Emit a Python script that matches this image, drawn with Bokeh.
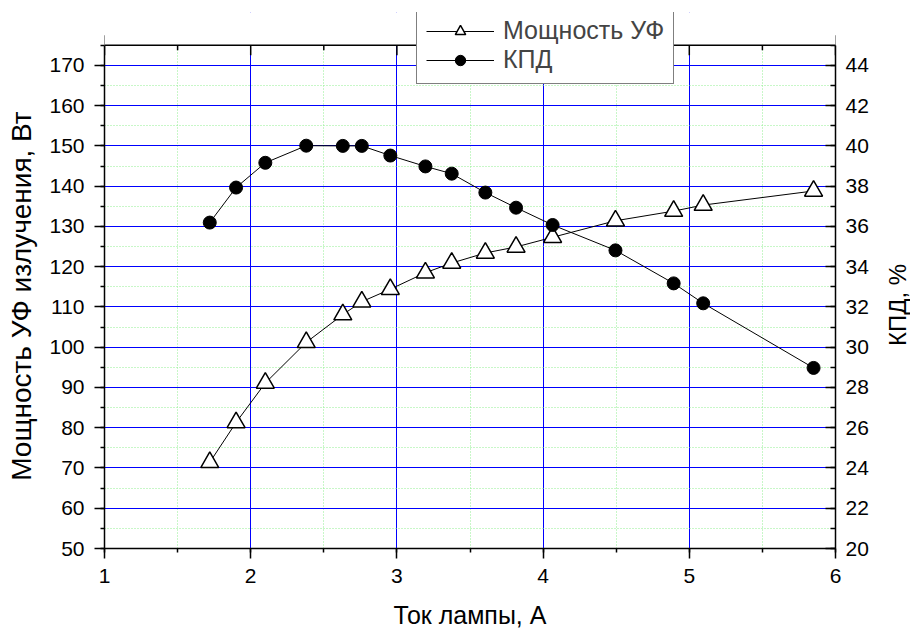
import math
from bokeh.plotting import figure
from bokeh.layouts import row
from bokeh.models import (Range1d, LinearAxis, SingleIntervalTicker, Legend, LegendItem,
                          ColumnDataSource, Span, BoxAnnotation, Label)
from bokeh.embed import file_html
from bokeh.resources import INLINE

# ---- data ----
current_a = [1.72, 1.90, 2.10, 2.38, 2.63, 2.76, 2.955, 3.195, 3.375, 3.605, 3.815,
             4.065, 4.495, 4.893, 5.095, 5.850]
uv_power_w = [71.4, 81.3, 91.1, 101.2, 108.1, 111.3, 114.4, 118.5, 120.9, 123.4, 124.9,
              127.3, 131.4, 133.8, 135.3, 138.8]
efficiency_pct = [36.19, 37.93, 39.16, 40.01, 40.0, 40.0, 39.52, 38.98, 38.62, 37.68, 36.93,
                  36.07, 34.81, 33.17, 32.18, 28.97]

x_major_ticks = [1, 2, 3, 4, 5, 6]
x_minor_ticks = [1.5, 2.5, 3.5, 4.5, 5.5]

x_label = "Ток лампы, А"
y_label = "Мощность УФ излучения, Вт"
y2_label = "КПД, %"
name_power = "Мощность УФ"
name_eff = "КПД"

FONT = "Liberation Sans"
FS = "21px"

# axis extents (the frame is taller than the axes so the legend can sit above them)
Y_MIN, Y_MAX, Y_VIEW = 50, 175, 183.13
Y2_MIN, Y2_MAX = 20, 45
Y2_VIEW = Y2_MIN + (Y_VIEW - Y_MIN) / 5.0
Y2_TITLE_AT = 110.5   # height (left-axis units) of the centre of the right-axis title

MAIN_W, SIDE_W, H = 876, 34, 631

src = ColumnDataSource(dict(x=current_a, p=uv_power_w, e=efficiency_pct))
top_major = ColumnDataSource(dict(x=x_major_ticks, y=[Y_MAX] * len(x_major_ticks)))
top_minor = ColumnDataSource(dict(x=x_minor_ticks, y=[Y_MAX] * len(x_minor_ticks)))

p = figure(width=MAIN_W, height=H, output_backend="svg", toolbar_location=None,
           x_range=Range1d(1, 6), y_range=Range1d(Y_MIN, Y_VIEW),
           min_border_left=104, min_border_right=MAIN_W - 835, min_border_top=12,
           min_border_bottom=78,
           background_fill_color="white", border_fill_color="white")
p.extra_y_ranges = {"eff": Range1d(Y2_MIN, Y2_VIEW)}
p.outline_line_color = None

xax = p.xaxis[0]
xax.ticker = SingleIntervalTicker(interval=1, num_minor_ticks=2)
yax = p.yaxis[0]
yax.ticker = SingleIntervalTicker(interval=10, num_minor_ticks=2)
yax.bounds = (Y_MIN, Y_MAX)

rax = LinearAxis(y_range_name="eff", ticker=SingleIntervalTicker(interval=2, num_minor_ticks=2),
                 bounds=(Y2_MIN, Y2_MAX))
p.add_layout(rax, "right")

for ax in (xax, yax, rax):
    ax.axis_line_color = "black"
    ax.axis_line_width = 1.5
    ax.major_tick_line_color = "black"
    ax.minor_tick_line_color = "black"
    ax.major_tick_line_width = 1.5
    ax.minor_tick_line_width = 1.5
    ax.major_label_text_font = FONT
    ax.major_label_text_font_size = FS
    ax.major_label_text_color = "black"
    ax.axis_label_text_font = FONT
    ax.axis_label_text_font_style = "normal"
    ax.axis_label_text_color = "black"
    ax.major_label_standoff = 10

for ax in (xax, yax):
    ax.major_tick_out = 10
    ax.major_tick_in = 0
    ax.minor_tick_out = 4
    ax.minor_tick_in = 0
rax.major_tick_out = 0
rax.major_tick_in = 10
rax.minor_tick_out = 0
rax.minor_tick_in = 5

xax.axis_label = x_label
xax.axis_label_text_font_size = "25px"
xax.axis_label_standoff = 15
# trailing no-break spaces move the centred title down to the middle of the axis
yax.axis_label = y_label + "\u00a0\u00a0\u00a0\u00a0"
yax.axis_label_text_font_size = "28px"
yax.axis_label_standoff = 9

# grids
for g in (p.xgrid[0], p.ygrid[0]):
    g.grid_line_color = "#0000ff"
    g.grid_line_width = 1
    g.minor_grid_line_color = "#90ee90"
    g.minor_grid_line_dash = "1 2"
    g.minor_grid_line_width = 1

# series
l1 = p.line("x", "p", source=src, line_color="black", line_width=1)
m1 = p.scatter("x", "p", source=src, marker="triangle", size=18,
               fill_color="white", line_color="black", line_width=1.5)
l2 = p.line("x", "e", source=src, y_range_name="eff", line_color="black", line_width=1)
m2 = p.scatter("x", "e", source=src, y_range_name="eff", marker="circle", size=13,
               fill_color="black", line_color="black")

# top frame ticks (inward)
p.scatter("x", "y", source=top_major, marker="dash", angle=math.pi / 2, size=20,
          line_color="black", line_width=1.5)
p.scatter("x", "y", source=top_minor, marker="dash", angle=math.pi / 2, size=10,
          line_color="black", line_width=1.5)

# blank area above the top frame line, then the frame line itself
p.add_layout(BoxAnnotation(bottom=Y_MAX, fill_color="white", fill_alpha=1.0, line_color=None))
p.add_layout(Span(location=Y_MAX, dimension="width", line_color="black", line_width=1.5))

legend = Legend(items=[LegendItem(label=name_power, renderers=[l1, m1]),
                       LegendItem(label=name_eff, renderers=[l2, m2])],
                location=(312, 464), orientation="vertical",
                label_text_font=FONT, label_text_font_size="25px",
                glyph_width=68, glyph_height=26, spacing=-8, padding=9,
                label_standoff=9, margin=0,
                border_line_color="black", border_line_width=1.2,
                background_fill_color="white", background_fill_alpha=1.0)
p.add_layout(legend, "center")

# narrow strip on the right carrying the right-axis title (reads bottom to top);
# its frame lines up with the main frame, so it shares the main y range
side = figure(width=SIDE_W, height=H, output_backend="svg", toolbar_location=None,
              x_axis_type=None, y_axis_type=None,
              x_range=Range1d(0, SIDE_W), y_range=p.y_range,
              min_border=0, min_border_left=0, min_border_right=0,
              min_border_top=12, min_border_bottom=78,
              background_fill_color="white", border_fill_color="white")
side.outline_line_color = None
side.add_layout(Label(x=897 - MAIN_W, y=Y2_TITLE_AT, text=y2_label, angle=math.pi / 2,
                      text_align="center", text_baseline="middle",
                      text_font=FONT, text_font_size="24px", text_color="black"))

layout = row(p, side, spacing=0)
open("out.html", "w").write(file_html(layout, INLINE))
